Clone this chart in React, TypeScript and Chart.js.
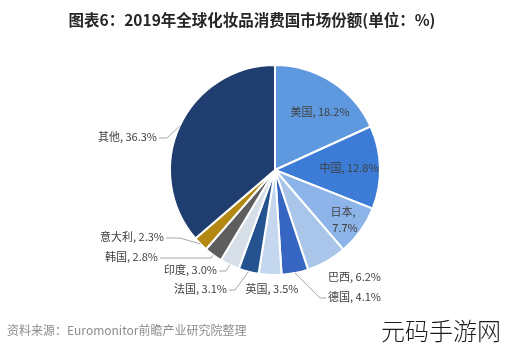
import React, { useEffect, useRef } from "react";
import { Chart, registerables } from "chart.js";

Chart.register(...registerables);

const titleText = "图表6：2019年全球化妆品消费国市场份额(单位：%)";
const sourceText = "资料来源：Euromonitor前瞻产业研究院整理";
const watermarkText = "元码手游网";

const categories = ["美国", "中国", "日本", "巴西", "德国", "英国", "法国", "印度", "韩国", "意大利", "其他"];
const shares = [18.2, 12.8, 7.7, 6.2, 4.1, 3.5, 3.1, 3.0, 2.8, 2.3, 36.3];
const sliceColors = [
  "#5E99E0",
  "#3C7BD6",
  "#8CB4E8",
  "#A9C6EA",
  "#3666C2",
  "#C4D7EF",
  "#25538F",
  "#D6DEE8",
  "#5E5E5E",
  "#B38914",
  "#1F3D6E",
];

// label layout: offsets from pie centre (px); align; optional leader elbow x offset
type LabelLayout = { dx: number; dy: number; align: CanvasTextAlign; elbow?: number; twoLine?: boolean };
const labelLayout: LabelLayout[] = [
  { dx: 45, dy: -58, align: "center" },
  { dx: 74, dy: -2, align: "center" },
  { dx: 68, dy: 42, align: "center", twoLine: true },
  { dx: 53, dy: 107, align: "left" },
  { dx: 53, dy: 127, align: "left", elbow: 45 },
  { dx: -3, dy: 119, align: "center" },
  { dx: -48, dy: 119, align: "right", elbow: -40 },
  { dx: -58, dy: 100, align: "right", elbow: -49 },
  { dx: -117, dy: 87, align: "right", elbow: -64 },
  { dx: -111, dy: 67, align: "right", elbow: -95 },
  { dx: -118, dy: -33, align: "right", elbow: -108 },
];

const FONT = '"Noto Sans CJK SC", "Noto Sans", sans-serif';

const labelPlugin = {
  id: "customLabels",
  afterDraw(chart: any) {
    const ctx: CanvasRenderingContext2D = chart.ctx;
    const meta = chart.getDatasetMeta(0);
    ctx.save();
    // title
    ctx.fillStyle = "#262626";
    ctx.font = `bold 15.5px ${FONT}`;
    ctx.textAlign = "center";
    ctx.textBaseline = "middle";
    ctx.fillText(titleText, 252, 20);

    // labels
    ctx.font = `11px ${FONT}`;
    meta.data.forEach((arc: any, i: number) => {
      const p = arc.getProps(["x", "y", "startAngle", "endAngle", "outerRadius"], true);
      const lay = labelLayout[i];
      const tx = p.x + lay.dx;
      const ty = p.y + lay.dy;
      const text = `${categories[i]}, ${shares[i].toFixed(1)}%`;
      ctx.fillStyle = "#404040";
      ctx.textBaseline = "middle";
      ctx.textAlign = lay.align;
      if (lay.twoLine) {
        ctx.fillText(`${categories[i]},`, tx, ty);
        ctx.fillText(`${shares[i].toFixed(1)}%`, tx + 2, ty + 16);
      } else {
        ctx.fillText(text, tx, ty);
      }
      if (lay.elbow !== undefined) {
        const mid = (p.startAngle + p.endAngle) / 2;
        const ax = p.x + Math.cos(mid) * p.outerRadius;
        const ay = p.y + Math.sin(mid) * p.outerRadius;
        const sx = lay.align === "right" ? tx + 2 : tx - 2;
        const ly = ty + 1;
        ctx.strokeStyle = "#A6A6A6";
        ctx.lineWidth = 1;
        ctx.beginPath();
        ctx.moveTo(sx, ly);
        ctx.lineTo(p.x + lay.elbow, ly);
        ctx.lineTo(ax, ay);
        ctx.stroke();
      }
    });

    // source
    ctx.fillStyle = "#8C8C8C";
    ctx.font = `12px ${FONT}`;
    ctx.textAlign = "left";
    ctx.fillText(sourceText, 7, 330);

    // watermark
    ctx.fillStyle = "#1A1A1A";
    ctx.font = `300 24px ${FONT}`;
    ctx.textAlign = "right";
    ctx.fillText(watermarkText, 501, 331);
    ctx.restore();
  },
};

export default function App() {
  const canvasRef = useRef<HTMLCanvasElement | null>(null);
  useEffect(() => {
    if (!canvasRef.current) return;
    const chart = new Chart(canvasRef.current, {
      type: "pie",
      data: {
        labels: categories,
        datasets: [
          {
            data: shares,
            backgroundColor: sliceColors,
            borderColor: "#FFFFFF",
            borderWidth: 2,
          },
        ],
      },
      options: {
        responsive: false,
        animation: false,
        layout: { padding: { left: 169, right: 124, top: 64, bottom: 75 } },
        plugins: {
          legend: { display: false },
          tooltip: { enabled: false },
          title: { display: false },
        },
      },
      plugins: [labelPlugin],
    });
    return () => chart.destroy();
  }, []);
  return (
    <div style={{ position: "absolute", left: 0, top: 0, width: 505, height: 351, background: "#FFFFFF" }}>
      <canvas ref={canvasRef} width={505} height={351} />
    </div>
  );
}
